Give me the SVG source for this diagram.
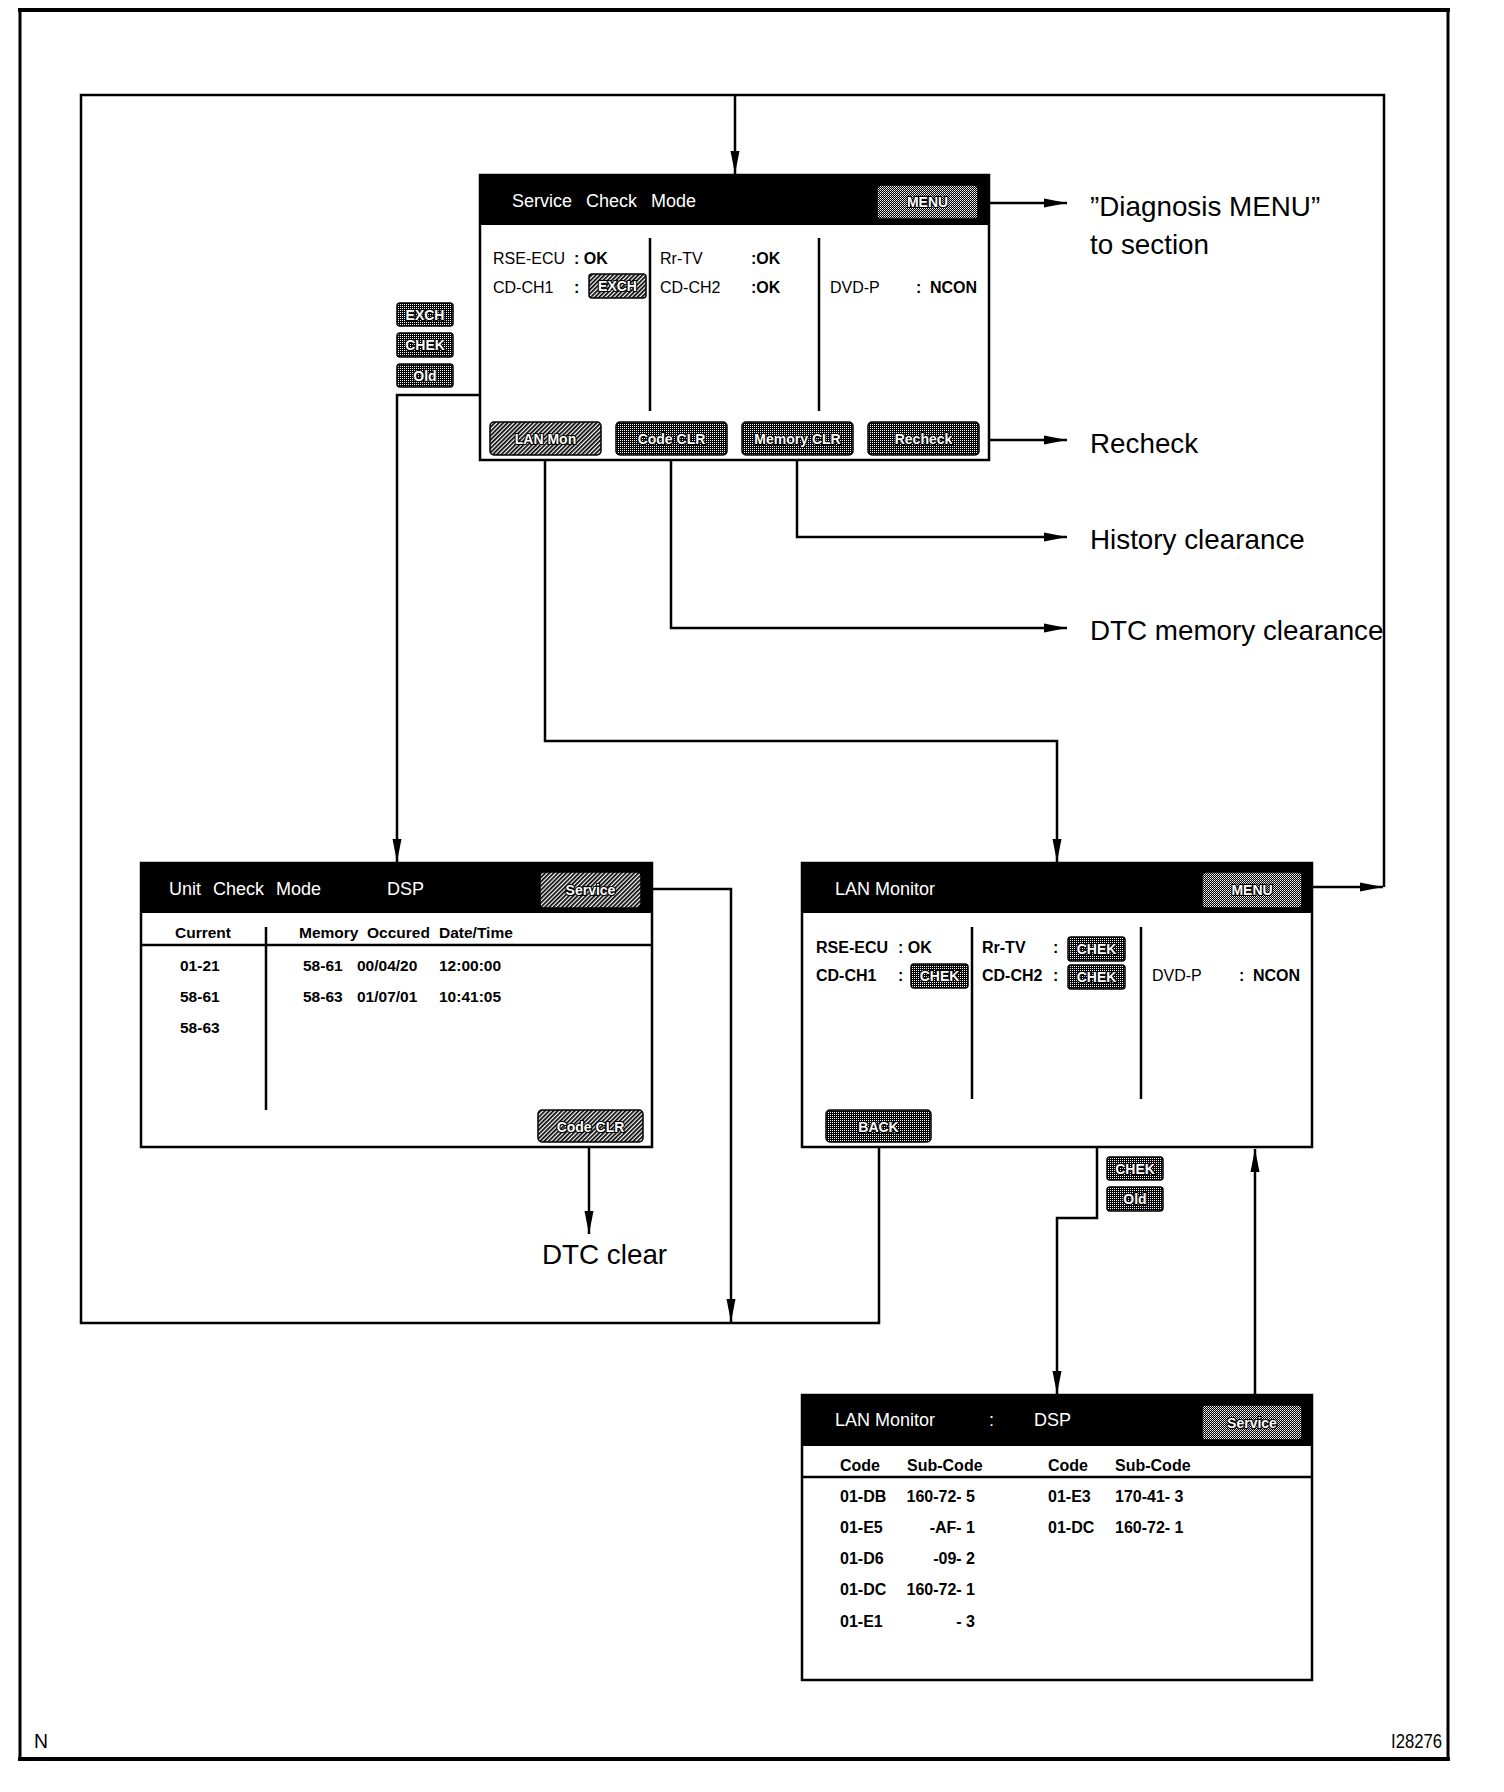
<svg xmlns="http://www.w3.org/2000/svg" width="1504" height="1792" viewBox="0 0 1504 1792">
<defs>
<style>
text{font-family:"Liberation Sans",Arial,sans-serif;fill:#000}
.ttl{font-size:18px;fill:#fff}
.b{font-size:16px}
.bb{font-size:16px;font-weight:bold}
.tb{font-size:15.5px;font-weight:bold}
.lbl{font-size:27.8px}
.btn{stroke:#000;stroke-width:1.5}
.bt{font-size:14px;font-weight:bold;fill:#fff;stroke:#000;stroke-width:2.2;paint-order:stroke;text-anchor:middle}
.box{fill:#fff;stroke:#000;stroke-width:2.5}
.ln{stroke:#000;stroke-width:2.5;fill:none}
.cn{stroke:#000;stroke-width:2.5;fill:none}
.ar{marker-end:url(#ah)}
</style>
<pattern id="dots" width="2" height="2" patternUnits="userSpaceOnUse"><rect width="2" height="2" fill="#000"/><rect width="1" height="1" fill="#fff"/></pattern>
<pattern id="dotsL" width="2" height="2" patternUnits="userSpaceOnUse"><rect width="2" height="2" fill="#000"/><rect width="1" height="1" fill="#fff"/><rect x="1" y="1" width="1" height="1" fill="#bbb"/></pattern>
<pattern id="hatch" width="3" height="3" patternUnits="userSpaceOnUse" patternTransform="rotate(45)"><rect width="3" height="3" fill="#fff"/><rect width="1.7" height="3" fill="#000"/></pattern>
<marker id="ah" markerWidth="24" markerHeight="10" refX="23" refY="5" orient="auto" markerUnits="userSpaceOnUse"><path d="M0,0.5 L23,5 L0,9.5 z" fill="#000"/></marker>
</defs>
<rect width="1504" height="1792" fill="#fff"/>

<g id="frame">
<line x1="18" y1="10" x2="1450" y2="10" stroke="#000" stroke-width="4"/>
<line x1="18" y1="1759" x2="1450" y2="1759" stroke="#000" stroke-width="4"/>
<line x1="20" y1="8" x2="20" y2="1761" stroke="#000" stroke-width="3"/>
<line x1="1448" y1="8" x2="1448" y2="1761" stroke="#000" stroke-width="3"/>
<text x="34" y="1748" font-size="20" textLength="14" lengthAdjust="spacingAndGlyphs">N</text>
<text x="1391" y="1748" font-size="20" textLength="51" lengthAdjust="spacingAndGlyphs">I28276</text>
</g>

<g id="connectors">
<path class="cn" d="M879,1142 V1323 H81 V95 H1384 V887"/>
<path class="cn ar" d="M1312,887 H1383"/>
<path class="cn ar" d="M735,95 V174"/>
<path class="cn ar" d="M641,889 H731 V1322"/>
<path class="cn ar" d="M589,1142 V1234"/>
<path class="cn ar" d="M618,298 V395 H397 V862"/>
<path class="cn ar" d="M545,455 V741 H1057 V862"/>
<path class="cn ar" d="M671,455 V628 H1067"/>
<path class="cn ar" d="M797,455 V537 H1067"/>
<path class="cn ar" d="M979,440 H1067"/>
<path class="cn ar" d="M978,203 H1067"/>
<path class="cn ar" d="M1097,989 V1218 H1057 V1394"/>
<path class="cn ar" d="M1255,1395 V1149"/>
</g>

<g id="service-check-mode">
<rect class="box" x="480" y="175" width="509" height="285"/>
<rect x="480" y="175" width="509" height="50" fill="#000"/>
<text class="ttl" x="512" y="207">Service</text>
<text class="ttl" x="586" y="207">Check</text>
<text class="ttl" x="651" y="207">Mode</text>
<rect class="btn" x="877" y="185" width="101" height="34" rx="4" fill="url(#dotsL)"/>
<text class="bt" x="927.5" y="207">MENU</text>
<text class="b" x="493" y="264">RSE-ECU</text><text class="bb" x="574" y="264">: OK</text>
<text class="b" x="493" y="293">CD-CH1</text><text class="bb" x="574" y="293">:</text>
<rect class="btn" x="589" y="274" width="57" height="24" rx="3" fill="url(#hatch)"/>
<text class="bt" x="617.5" y="291" font-size="13">EXCH</text>
<line class="ln" x1="650" y1="238" x2="650" y2="411"/>
<text class="b" x="660" y="264">Rr-TV</text><text class="bb" x="751" y="264">:OK</text>
<text class="b" x="660" y="293">CD-CH2</text><text class="bb" x="751" y="293">:OK</text>
<line class="ln" x1="819" y1="238" x2="819" y2="411"/>
<text class="b" x="830" y="293">DVD-P</text><text class="bb" x="916" y="293">:</text><text class="bb" x="930" y="293">NCON</text>
<rect class="btn" x="490" y="422" width="111" height="33" rx="4" fill="url(#hatch)"/>
<text class="bt" x="545.5" y="444">LAN Mon</text>
<rect class="btn" x="616" y="422" width="111" height="33" rx="4" fill="url(#dots)"/>
<text class="bt" x="671.5" y="444">Code CLR</text>
<rect class="btn" x="742" y="422" width="111" height="33" rx="4" fill="url(#dots)"/>
<text class="bt" x="797.5" y="444">Memory CLR</text>
<rect class="btn" x="868" y="422" width="111" height="33" rx="4" fill="url(#dots)"/>
<text class="bt" x="923.5" y="444">Recheck</text>
</g>

<g id="exch-options">
<rect class="btn" x="397" y="303" width="56" height="23" rx="3" fill="url(#dots)"/>
<text class="bt" x="425" y="320" font-size="13">EXCH</text>
<rect class="btn" x="397" y="333" width="56" height="24" rx="3" fill="url(#dots)"/>
<text class="bt" x="425" y="350" font-size="13">CHEK</text>
<rect class="btn" x="397" y="364" width="56" height="23" rx="3" fill="url(#dots)"/>
<text class="bt" x="425" y="381" font-size="13">Old</text>
</g>

<g id="unit-check-mode">
<rect class="box" x="141" y="863" width="511" height="284"/>
<rect x="141" y="863" width="511" height="50" fill="#000"/>
<text class="ttl" x="169" y="895">Unit</text>
<text class="ttl" x="213" y="895">Check</text>
<text class="ttl" x="276" y="895">Mode</text>
<text class="ttl" x="387" y="895">DSP</text>
<rect class="btn" x="540" y="872" width="101" height="36" rx="4" fill="url(#hatch)"/>
<text class="bt" x="590.5" y="895">Service</text>
<text class="tb" x="175" y="938">Current</text>
<text class="tb" x="299" y="938">Memory</text>
<text class="tb" x="367" y="938">Occured</text>
<text class="tb" x="439" y="938">Date/Time</text>
<line class="ln" x1="141" y1="945" x2="652" y2="945"/>
<line class="ln" x1="266" y1="927" x2="266" y2="1110"/>
<text class="tb" x="180" y="971">01-21</text>
<text class="tb" x="180" y="1002">58-61</text>
<text class="tb" x="180" y="1033">58-63</text>
<text class="tb" x="303" y="971">58-61</text><text class="tb" x="357" y="971">00/04/20</text><text class="tb" x="439" y="971">12:00:00</text>
<text class="tb" x="303" y="1002">58-63</text><text class="tb" x="357" y="1002">01/07/01</text><text class="tb" x="439" y="1002">10:41:05</text>
<rect class="btn" x="538" y="1110" width="105" height="32" rx="4" fill="url(#hatch)"/>
<text class="bt" x="590.5" y="1132">Code CLR</text>
</g>

<g id="lan-monitor">
<rect class="box" x="802" y="863" width="510" height="284"/>
<rect x="802" y="863" width="510" height="50" fill="#000"/>
<text class="ttl" x="835" y="895">LAN Monitor</text>
<rect class="btn" x="1202" y="872" width="100" height="36" rx="4" fill="url(#dotsL)"/>
<text class="bt" x="1252" y="895">MENU</text>
<text class="bb" x="816" y="953">RSE-ECU</text><text class="bb" x="898" y="953">: OK</text>
<text class="bb" x="816" y="981">CD-CH1</text><text class="bb" x="898" y="981">:</text>
<rect class="btn" x="911" y="964" width="57" height="24" rx="3" fill="url(#dots)"/>
<text class="bt" x="939.5" y="981" font-size="13">CHEK</text>
<line class="ln" x1="972" y1="927" x2="972" y2="1099"/>
<text class="bb" x="982" y="953">Rr-TV</text><text class="bb" x="1053" y="953">:</text>
<rect class="btn" x="1068" y="937" width="57" height="24" rx="3" fill="url(#dots)"/>
<text class="bt" x="1096.5" y="954" font-size="13">CHEK</text>
<text class="bb" x="982" y="981">CD-CH2</text><text class="bb" x="1053" y="981">:</text>
<rect class="btn" x="1068" y="965" width="57" height="24" rx="3" fill="url(#dots)"/>
<text class="bt" x="1096.5" y="982" font-size="13">CHEK</text>
<line class="ln" x1="1141" y1="927" x2="1141" y2="1099"/>
<text class="b" x="1152" y="981">DVD-P</text><text class="bb" x="1239" y="981">:</text><text class="bb" x="1253" y="981">NCON</text>
<rect class="btn" x="826" y="1110" width="105" height="32" rx="4" fill="url(#dots)"/>
<text class="bt" x="878.5" y="1132">BACK</text>
</g>

<g id="chek-options">
<rect class="btn" x="1107" y="1157" width="56" height="23" rx="3" fill="url(#dots)"/>
<text class="bt" x="1135" y="1174" font-size="13">CHEK</text>
<rect class="btn" x="1107" y="1187" width="56" height="24" rx="3" fill="url(#dots)"/>
<text class="bt" x="1135" y="1204" font-size="13">Old</text>
</g>

<g id="lan-monitor-dsp">
<rect class="box" x="802" y="1395" width="510" height="285"/>
<rect x="802" y="1395" width="510" height="51" fill="#000"/>
<text class="ttl" x="835" y="1426">LAN Monitor</text>
<text class="ttl" x="989" y="1426">:</text>
<text class="ttl" x="1034" y="1426">DSP</text>
<rect class="btn" x="1202" y="1405" width="100" height="35" rx="4" fill="url(#dotsL)"/>
<text class="bt" x="1252" y="1428">Service</text>
<text class="bb" x="840" y="1471">Code</text><text class="bb" x="907" y="1471">Sub-Code</text>
<text class="bb" x="1048" y="1471">Code</text><text class="bb" x="1115" y="1471">Sub-Code</text>
<line class="ln" x1="802" y1="1477" x2="1312" y2="1477"/>
<text class="bb" x="840" y="1502">01-DB</text><text class="bb" x="975" y="1502" text-anchor="end">160-72- 5</text>
<text class="bb" x="1048" y="1502">01-E3</text><text class="bb" x="1115" y="1502">170-41- 3</text>
<text class="bb" x="840" y="1533">01-E5</text><text class="bb" x="975" y="1533" text-anchor="end">-AF- 1</text>
<text class="bb" x="1048" y="1533">01-DC</text><text class="bb" x="1115" y="1533">160-72- 1</text>
<text class="bb" x="840" y="1564">01-D6</text><text class="bb" x="975" y="1564" text-anchor="end">-09- 2</text>
<text class="bb" x="840" y="1595">01-DC</text><text class="bb" x="975" y="1595" text-anchor="end">160-72- 1</text>
<text class="bb" x="840" y="1627">01-E1</text><text class="bb" x="975" y="1627" text-anchor="end">- 3</text>
</g>

<g id="labels">
<text class="lbl" x="1090" y="216">”Diagnosis MENU”</text>
<text class="lbl" x="1090" y="254">to section</text>
<text class="lbl" x="1090" y="453">Recheck</text>
<text class="lbl" x="1090" y="549">History clearance</text>
<text class="lbl" x="1090" y="640">DTC memory clearance</text>
<text class="lbl" x="542" y="1264">DTC clear</text>
</g>
</svg>
